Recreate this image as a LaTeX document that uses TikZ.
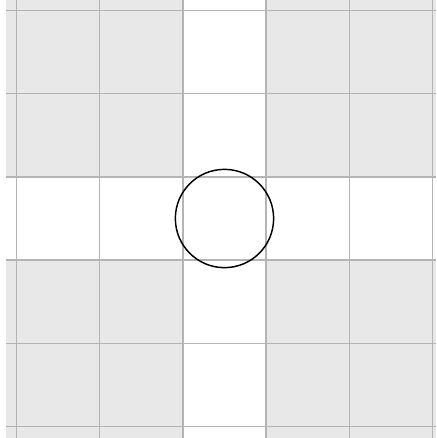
\documentclass[tikz,border=0pt]{standalone}
\usepackage{tikz}
\definecolor{cCell}{HTML}{E8E8E8}
\definecolor{cLine}{HTML}{B4B4B4}

\begin{document}
\begin{tikzpicture}[
  cellfill/.style={fill=cCell,draw=none},
  gridline/.style={draw=cLine,line width=0.5pt},
  disc/.style={draw=black,line width=0.5pt}
]
\useasboundingbox (-2.695,-2.635) rectangle (2.539,2.623);
% shaded cells, leaving the middle row and column blank
\fill[cCell] (-2.623,-2.635) rectangle (-0.5,-0.5);
\fill[cCell] (0.5,-2.635) rectangle (2.539,-0.5);
\fill[cCell] (-2.623,0.5) rectangle (-0.5,2.623);
\fill[cCell] (0.5,0.5) rectangle (2.539,2.623);
% grid
\foreach \k in {-2.5,-1.5,...,2.5} {
  \draw[gridline] (\k,-2.635) -- (\k,2.623);
  \draw[gridline] (-2.623,\k) -- (2.539,\k);
}
% circle in the centre cell
\draw[disc] (0,0) circle (0.59);
\end{tikzpicture}
\end{document}
